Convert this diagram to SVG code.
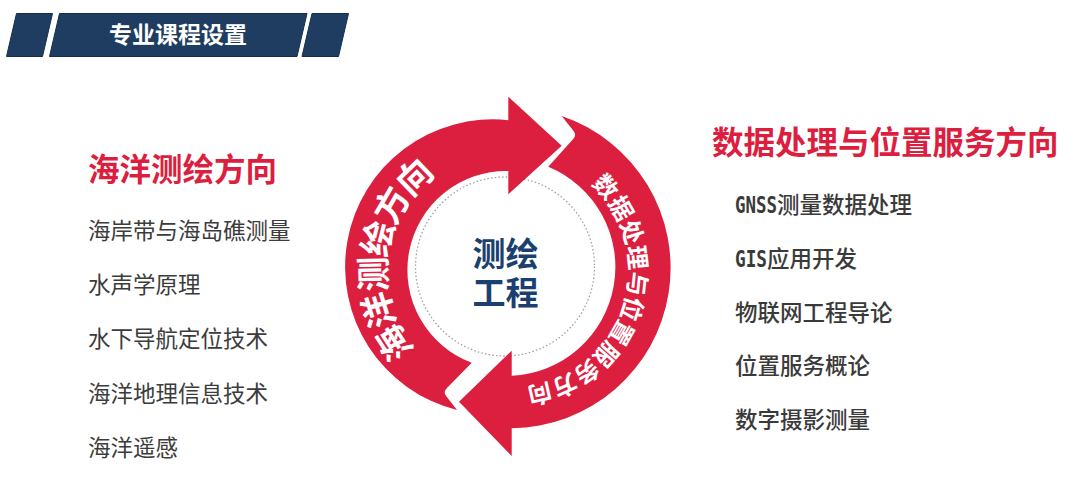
<svg xmlns="http://www.w3.org/2000/svg" width="1080" height="498" viewBox="0 0 1080 498">
<style>
.bar{fill:#1f3d60;stroke:#142e4c;stroke-width:1}
.cjk{font-family:'Noto Sans CJK SC',sans-serif}
.title{font-size:23px;font-weight:700;fill:#ffffff}
.head{font-size:31.5px;font-weight:700;fill:#dc1e3f}
.item{font-size:22.5px;fill:#3c3c3c}
.itemR{font-size:22.5px;font-weight:500;fill:#3a3a3a}
.mono{font-family:'DejaVu Sans Mono','Liberation Mono',monospace;font-weight:700}
.arrow{fill:#dc1e3f}
.arc{font-weight:700;fill:#ffffff}
.core{font-size:33px;font-weight:700;fill:#1b3f6e}
</style>
<defs>
<path id="tpL" d="M 464.4 383.54 A 118.7 118.7 0 0 1 505 153.3"/>
<path id="tpR" d="M 552.08 160.87 A 117.2 117.2 0 0 1 491.65 386.42"/>
</defs>
<rect width="1080" height="498" fill="#ffffff"/>
<g id="header">
<polygon class="bar" points="16.5,13.5 52.5,13.5 42.5,56.5 6.5,56.5"/>
<polygon class="bar" points="59.5,13.5 307,13.5 297,56.5 49.5,56.5"/>
<polygon class="bar" points="312,13.5 348.5,13.5 338.5,56.5 302,56.5"/>
<text class="cjk title" x="178" y="42.9" text-anchor="middle">专业课程设置</text>
</g>
<g id="left-list">
<text class="cjk head" x="88" y="181.2">海洋测绘方向</text>
<text class="cjk item" x="88" y="239">海岸带与海岛礁测量</text>
<text class="cjk item" x="88" y="293.2">水声学原理</text>
<text class="cjk item" x="88" y="347.4">水下导航定位技术</text>
<text class="cjk item" x="88" y="401.6">海洋地理信息技术</text>
<text class="cjk item" x="88" y="455.8">海洋遥感</text>
</g>
<g id="right-list">
<text class="cjk head" x="712" y="154.3">数据处理与位置服务方向</text>
<text class="cjk itemR" x="735" y="212.8"><tspan class="mono" textLength="42" lengthAdjust="spacingAndGlyphs">GNSS</tspan>测量数据处理</text>
<text class="cjk itemR" x="735" y="266.9"><tspan class="mono" textLength="32" lengthAdjust="spacingAndGlyphs">GIS</tspan>应用开发</text>
<text class="cjk itemR" x="735" y="321">物联网工程导论</text>
<text class="cjk itemR" x="735" y="374.4">位置服务概论</text>
<text class="cjk itemR" x="735" y="427.8">数字摄影测量</text>
</g>
<g id="cycle">
<circle cx="505" cy="266.5" r="89.5" fill="none" stroke="#a0a0a0" stroke-width="1.3" stroke-dasharray="1.5 2.2"/>
<g id="arrow-left">
<path class="arrow" d="M 508.3 96.7 L 561.7 145.7 L 508.3 194.3 L 508.3 171 A 99 99 0 0 0 471.7 362.7 L 446.5 388.4 Q 443 392 446.1 395.9 L 457 410 A 147.5 147.5 0 0 1 508.3 120.2 Z"/>
<text class="cjk arc" font-size="35" letter-spacing="-2.3"><textPath href="#tpL" startOffset="158.1" text-anchor="middle">海洋测绘方向</textPath></text>
</g>
<g id="arrow-right">
<path class="arrow" d="M 511.7 456 L 459 401.7 L 511.7 350.7 L 511.7 375.7 A 108.7 108.7 0 0 0 548.3 166.7 L 573.4 138.7 Q 576.7 135 573.6 131.1 L 561.7 116 A 160.4 160.4 0 0 1 511.7 428.3 Z"/>
<text class="cjk arc" font-size="24" letter-spacing="0.3"><textPath href="#tpR" startOffset="179.3" text-anchor="middle">数据处理与位置服务方向</textPath></text>
</g>
<g id="core">
<text class="cjk core" x="505.5" y="265.5" text-anchor="middle">测绘</text>
<text class="cjk core" x="505.5" y="305" text-anchor="middle">工程</text>
</g>
</g>
</svg>
